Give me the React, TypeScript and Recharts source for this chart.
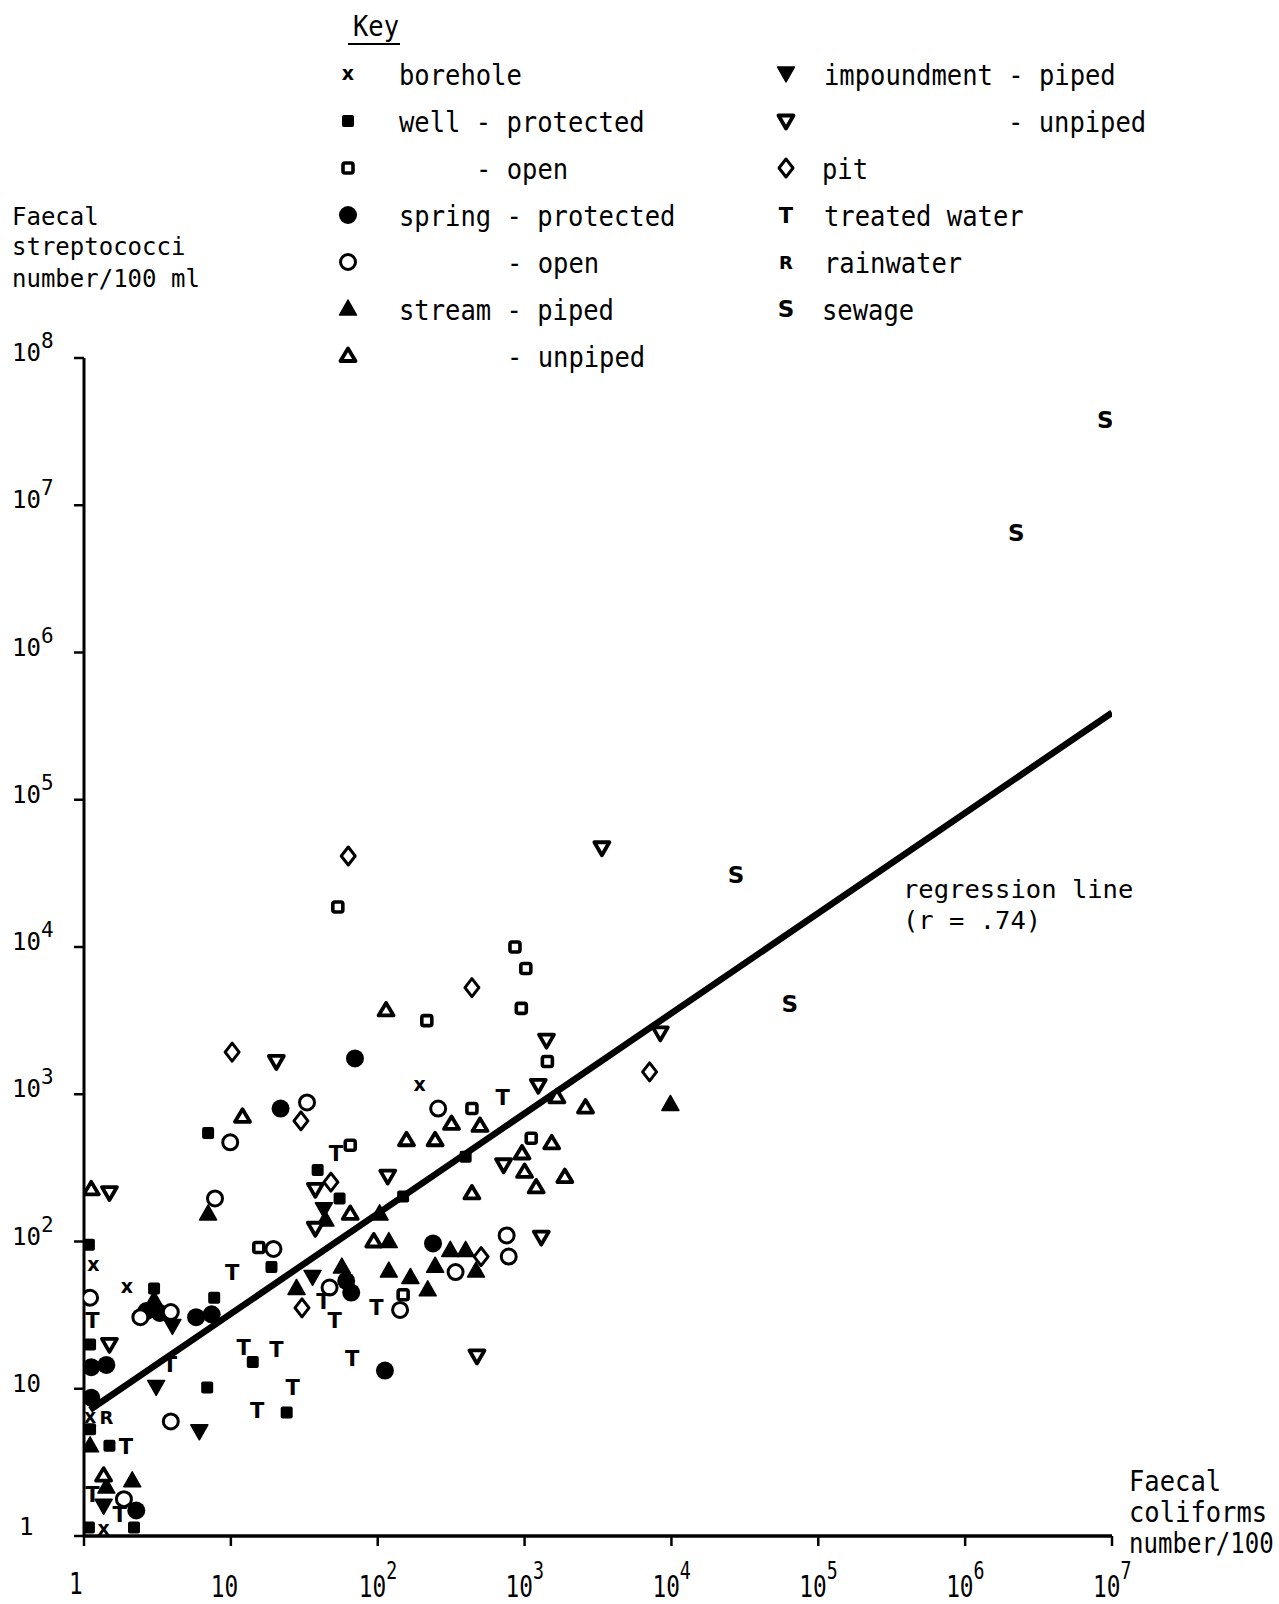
import React from 'react';
import { ScatterChart, Scatter, XAxis, YAxis } from 'recharts';

type Pt = { x: number; y: number };

const xTicks = [1, 10, 100, 1e3, 1e4, 1e5, 1e6, 1e7];
const yTicks = [1, 10, 100, 1e3, 1e4, 1e5, 1e6, 1e7, 1e8];

// faecal coliforms (x) vs faecal streptococci (y), per 100 ml
const borehole: Pt[] = [
  { x: 193, y: 1150 }, { x: 1.16, y: 69 }, { x: 1.96, y: 49 }, { x: 1.36, y: 1.12 }, { x: 1.1, y: 6.4 },
];
const wellProtected: Pt[] = [
  { x: 7.0, y: 545 }, { x: 397, y: 377 }, { x: 39, y: 306 }, { x: 55, y: 196 }, { x: 149, y: 202 },
  { x: 18.9, y: 67 }, { x: 7.7, y: 41.5 }, { x: 3.0, y: 48 }, { x: 6.9, y: 10.2 }, { x: 14.1, y: 15.2 },
  { x: 24, y: 6.9 }, { x: 1.08, y: 95 }, { x: 1.1, y: 20 }, { x: 1.49, y: 4.1 }, { x: 2.19, y: 1.14 },
  { x: 1.08, y: 1.14 }, { x: 1.1, y: 5.3 },
];
const wellOpen: Pt[] = [
  { x: 53.5, y: 18700 }, { x: 860, y: 10000 }, { x: 1020, y: 7150 }, { x: 950, y: 3830 }, { x: 216, y: 3160 },
  { x: 1430, y: 1670 }, { x: 438, y: 800 }, { x: 1110, y: 503 }, { x: 65, y: 450 }, { x: 15.5, y: 91 },
  { x: 149, y: 43.5 },
];
const springProtected: Pt[] = [
  { x: 70, y: 1750 }, { x: 21.8, y: 800 }, { x: 238, y: 97 }, { x: 112, y: 13.3 }, { x: 61, y: 54 },
  { x: 66, y: 45 }, { x: 5.8, y: 30.6 }, { x: 7.4, y: 32 }, { x: 2.66, y: 33.7 }, { x: 3.28, y: 32.7 },
  { x: 1.42, y: 14.5 }, { x: 1.12, y: 14 }, { x: 1.12, y: 8.7 }, { x: 2.27, y: 1.49 },
];
const springOpen: Pt[] = [
  { x: 9.9, y: 472 }, { x: 33, y: 880 }, { x: 258, y: 800 }, { x: 7.8, y: 196 }, { x: 19.5, y: 89 },
  { x: 755, y: 110 }, { x: 780, y: 79 }, { x: 339, y: 62 }, { x: 142, y: 34.3 }, { x: 47, y: 48.7 },
  { x: 3.9, y: 33.2 }, { x: 2.42, y: 30.6 }, { x: 3.9, y: 6.0 }, { x: 1.1, y: 41.5 }, { x: 1.87, y: 1.78 },
];
const streamPiped: Pt[] = [
  { x: 9840, y: 853 }, { x: 7.0, y: 154 }, { x: 103, y: 154 }, { x: 44, y: 140 }, { x: 119, y: 100 },
  { x: 119, y: 63 }, { x: 167, y: 57 }, { x: 219, y: 47 }, { x: 312, y: 87 }, { x: 397, y: 87 },
  { x: 246, y: 68 }, { x: 467, y: 63 }, { x: 57, y: 67 }, { x: 28, y: 48 }, { x: 3.0, y: 40 },
  { x: 2.13, y: 2.37 }, { x: 1.42, y: 2.15 }, { x: 1.1, y: 4.1 },
];
const streamUnpiped: Pt[] = [
  { x: 114, y: 3710 }, { x: 12, y: 703 }, { x: 157, y: 487 }, { x: 246, y: 487 }, { x: 318, y: 629 },
  { x: 497, y: 609 }, { x: 1660, y: 953 }, { x: 2600, y: 812 }, { x: 1530, y: 464 }, { x: 961, y: 396 },
  { x: 1000, y: 297 }, { x: 1200, y: 233 }, { x: 1880, y: 274 }, { x: 438, y: 212 }, { x: 65, y: 154 },
  { x: 1.12, y: 226 }, { x: 1.36, y: 2.57 }, { x: 94, y: 100 },
];
const impoundmentPiped: Pt[] = [
  { x: 36, y: 57 }, { x: 43, y: 164 }, { x: 4.0, y: 26.5 }, { x: 3.1, y: 10.2 }, { x: 6.1, y: 5.1 },
  { x: 1.36, y: 1.59 },
];
const impoundmentUnpiped: Pt[] = [
  { x: 3360, y: 47200 }, { x: 8400, y: 2610 }, { x: 1410, y: 2330 }, { x: 1240, y: 1150 }, { x: 20.4, y: 1670 },
  { x: 117, y: 278 }, { x: 720, y: 332 }, { x: 1300, y: 107 }, { x: 474, y: 16.7 }, { x: 37.6, y: 226 },
  { x: 37.6, y: 123 }, { x: 1.49, y: 215 }, { x: 1.49, y: 20 },
];
const pit: Pt[] = [
  { x: 63, y: 41500 }, { x: 438, y: 5300 }, { x: 10.2, y: 1930 }, { x: 7100, y: 1420 }, { x: 30, y: 660 },
  { x: 48, y: 253 }, { x: 30.5, y: 35.4 }, { x: 506, y: 79 },
];
const treatedWater: Pt[] = [
  { x: 708, y: 953 }, { x: 52, y: 396 }, { x: 10.2, y: 62 }, { x: 42.7, y: 39.6 }, { x: 51, y: 29.2 },
  { x: 98, y: 35.9 }, { x: 67, y: 16.2 }, { x: 12.2, y: 19.3 }, { x: 20.4, y: 18.7 }, { x: 26.4, y: 10.3 },
  { x: 15.1, y: 7.15 }, { x: 3.85, y: 14.7 }, { x: 1.93, y: 4.1 }, { x: 1.14, y: 1.93 }, { x: 1.75, y: 1.42 },
  { x: 1.14, y: 29.2 },
];
const rainwater: Pt[] = [{ x: 1.42, y: 6.4 }];
const sewage: Pt[] = [
  { x: 9.0e6, y: 3.77e7 }, { x: 2.23e6, y: 6.5e6 }, { x: 2.75e4, y: 3.1e4 }, { x: 6.4e4, y: 4100 },
];
const regression: Pt[] = [{ x: 1.1, y: 7.2 }, { x: 1e7, y: 3.9e5 }];

const INK = '#000';
const MONO = '"DejaVu Sans Mono", monospace';
const SANS = '"DejaVu Sans", sans-serif';

type Kind = 'x' | 'fsq' | 'osq' | 'fci' | 'oci' | 'ftr' | 'otr' | 'fdt' | 'odt' | 'dia' | 'T' | 'R' | 'S';

function Marker({ kind, cx, cy }: { kind: Kind; cx: number; cy: number }) {
  switch (kind) {
    case 'fsq':
      return <rect x={cx - 6} y={cy - 6} width={12} height={12} rx={2} fill={INK} />;
    case 'osq':
      return <rect x={cx - 5} y={cy - 5} width={10} height={10} rx={2} fill="#fff" stroke={INK} strokeWidth={3.6} />;
    case 'fci':
      return <circle cx={cx} cy={cy} r={9} fill={INK} />;
    case 'oci':
      return <circle cx={cx} cy={cy} r={7.5} fill="#fff" stroke={INK} strokeWidth={3} />;
    case 'ftr':
      return <polygon points={`${cx},${cy - 9} ${cx + 8.5},${cy + 6} ${cx - 8.5},${cy + 6}`} fill={INK} stroke={INK} strokeWidth={1.5} strokeLinejoin="round" />;
    case 'otr':
      return <polygon points={`${cx},${cy - 7.5} ${cx + 7.5},${cy + 5} ${cx - 7.5},${cy + 5}`} fill="#fff" stroke={INK} strokeWidth={3.8} strokeLinejoin="round" />;
    case 'fdt':
      return <polygon points={`${cx - 8.5},${cy - 7} ${cx + 8.5},${cy - 7} ${cx},${cy + 8}`} fill={INK} stroke={INK} strokeWidth={1.5} strokeLinejoin="round" />;
    case 'odt':
      return <polygon points={`${cx - 7.5},${cy - 5.5} ${cx + 7.5},${cy - 5.5} ${cx},${cy + 7.5}`} fill="#fff" stroke={INK} strokeWidth={3.8} strokeLinejoin="round" />;
    case 'dia':
      return <polygon points={`${cx},${cy - 9} ${cx + 7},${cy} ${cx},${cy + 9} ${cx - 7},${cy}`} fill="#fff" stroke={INK} strokeWidth={3} strokeLinejoin="round" />;
    case 'x':
      return <text x={cx} y={cy + 6} textAnchor="middle" fontFamily={SANS} fontWeight="bold" fontSize={19} fill={INK}>x</text>;
    case 'T':
      return <text x={cx} y={cy + 8} textAnchor="middle" fontFamily={SANS} fontWeight="bold" fontSize={21} fill={INK}>T</text>;
    case 'R':
      return <text x={cx} y={cy + 7} textAnchor="middle" fontFamily={SANS} fontWeight="bold" fontSize={18} fill={INK}>R</text>;
    case 'S':
      return <text x={cx} y={cy + 8} textAnchor="middle" fontFamily={SANS} fontWeight="bold" fontSize={23} fill={INK}>S</text>;
  }
  return <g />;
}

const shapeOf = (kind: Kind) => (p: any) => <Marker kind={kind} cx={p.cx} cy={p.cy} />;

// condensed typewriter-like text
function Cond({ x, y, size = 29, sx = 0.88, children }: any) {
  return (
    <g transform={`translate(${x},${y}) scale(${sx},1)`}>
      <text x={0} y={0} fontFamily={MONO} fontSize={size} fill={INK}>{children}</text>
    </g>
  );
}

const XTick = (p: any) => {
  const v = p.payload.value as number;
  const e = Math.round(Math.log10(v));
  const x = p.x;
  if (e === 0) return <Cond x={x - 15} y={1594} size={30} sx={0.76}>1</Cond>;
  if (e === 1) return <Cond x={x - 20} y={1597} size={30} sx={0.76}>10</Cond>;
  return (
    <Cond x={x - 19} y={1597} size={30} sx={0.76}>
      10<tspan fontSize={24} dy={-18}>{e}</tspan>
    </Cond>
  );
};

const YTick = (p: any) => {
  const v = p.payload.value as number;
  const e = Math.round(Math.log10(v));
  const y = p.y + 3;
  const st = { fontFamily: MONO, fontSize: 24, fill: INK } as const;
  if (e === 0) return <text x={19} y={y - 4} {...st}>1</text>;
  if (e === 1) return <text x={12} y={y} {...st}>10</text>;
  return (
    <text x={12} y={y} {...st}>
      10<tspan fontSize={21} dy={-13}>{e}</tspan>
    </text>
  );
};

const rowY = [74, 121, 168, 215, 262, 309, 356];

function Overlay() {
  const b = (i: number) => rowY[i] + 11;
  return (
    <svg width={1279} height={1604} style={{ position: 'absolute', left: 0, top: 0, pointerEvents: 'none' }}>
      <Cond x={353} y={36}>Key</Cond>
      <line x1={348} x2={400} y1={44} y2={44} stroke={INK} strokeWidth={2} />

      <Marker kind="x" cx={348} cy={rowY[0]} />
      <Cond x={399} y={b(0)}>borehole</Cond>
      <Marker kind="fsq" cx={348} cy={rowY[1]} />
      <Cond x={399} y={b(1)}>well - protected</Cond>
      <Marker kind="osq" cx={348} cy={rowY[2]} />
      <Cond x={476} y={b(2)}>- open</Cond>
      <Marker kind="fci" cx={348} cy={rowY[3]} />
      <Cond x={399} y={b(3)}>spring - protected</Cond>
      <Marker kind="oci" cx={348} cy={rowY[4]} />
      <Cond x={507} y={b(4)}>- open</Cond>
      <Marker kind="ftr" cx={348} cy={rowY[5]} />
      <Cond x={399} y={b(5)}>stream - piped</Cond>
      <Marker kind="otr" cx={348} cy={rowY[6]} />
      <Cond x={507} y={b(6)}>- unpiped</Cond>

      <Marker kind="fdt" cx={786} cy={rowY[0]} />
      <Cond x={824} y={b(0)}>impoundment - piped</Cond>
      <Marker kind="odt" cx={786} cy={rowY[1]} />
      <Cond x={1008} y={b(1)}>- unpiped</Cond>
      <Marker kind="dia" cx={786} cy={rowY[2]} />
      <Cond x={822} y={b(2)}>pit</Cond>
      <Marker kind="T" cx={786} cy={rowY[3]} />
      <Cond x={824} y={b(3)}>treated water</Cond>
      <Marker kind="R" cx={786} cy={rowY[4]} />
      <Cond x={824} y={b(4)}>rainwater</Cond>
      <Marker kind="S" cx={786} cy={rowY[5]} />
      <Cond x={822} y={b(5)}>sewage</Cond>

      <g fontFamily={MONO} fontSize={24} fill={INK}>
        <text x={12} y={225}>Faecal</text>
        <text x={12} y={255}>streptococci</text>
        <text x={12} y={287}>number/100 ml</text>
      </g>

      <g fontFamily={MONO} fontSize={25.5} fill={INK}>
        <text x={903} y={898}>regression line</text>
        <text x={903} y={929}>(r = .74)</text>
      </g>

      <Cond x={1129} y={1491}>Faecal</Cond>
      <Cond x={1129} y={1522}>coliforms</Cond>
      <Cond x={1129} y={1553} sx={0.83}>number/100</Cond>
    </svg>
  );
}

const filledSeries: [Pt[], Kind][] = [
  [wellProtected, 'fsq'], [springProtected, 'fci'], [streamPiped, 'ftr'], [impoundmentPiped, 'fdt'],
];
const openSeries: [Pt[], Kind][] = [
  [wellOpen, 'osq'], [springOpen, 'oci'], [streamUnpiped, 'otr'], [impoundmentUnpiped, 'odt'], [pit, 'dia'],
];
const letterSeries: [Pt[], Kind][] = [
  [borehole, 'x'], [treatedWater, 'T'], [rainwater, 'R'], [sewage, 'S'],
];

export default function App() {
  return (
    <div style={{ position: 'absolute', left: 0, top: 0, width: 1279, height: 1604, background: '#fff', overflow: 'hidden' }}>
      <ScatterChart width={1279} height={1604} margin={{ top: 358, right: 167, bottom: 8, left: 24 }}>
        <XAxis
          type="number" dataKey="x" scale="log" domain={[1, 1e7]} ticks={xTicks} allowDataOverflow
          height={60} axisLine={{ stroke: INK, strokeWidth: 3.5 }} tickLine={{ stroke: INK, strokeWidth: 2.5 }}
          tickSize={10} tick={XTick} interval={0}
        />
        <YAxis
          type="number" dataKey="y" scale="log" domain={[1, 1e8]} ticks={yTicks} allowDataOverflow
          width={60} axisLine={{ stroke: INK, strokeWidth: 3 }} tickLine={{ stroke: INK, strokeWidth: 2.5 }}
          tickSize={10} tick={YTick} interval={0}
        />
        <Scatter
          data={regression} line={{ stroke: INK, strokeWidth: 6.5 }} shape={() => <g />}
          isAnimationActive={false}
        />
        {filledSeries.map(([d, k]) => (
          <Scatter key={k} data={d} shape={shapeOf(k)} isAnimationActive={false} />
        ))}
        {openSeries.map(([d, k]) => (
          <Scatter key={k} data={d} shape={shapeOf(k)} isAnimationActive={false} />
        ))}
        {letterSeries.map(([d, k]) => (
          <Scatter key={k} data={d} shape={shapeOf(k)} isAnimationActive={false} />
        ))}
      </ScatterChart>
      <Overlay />
    </div>
  );
}
